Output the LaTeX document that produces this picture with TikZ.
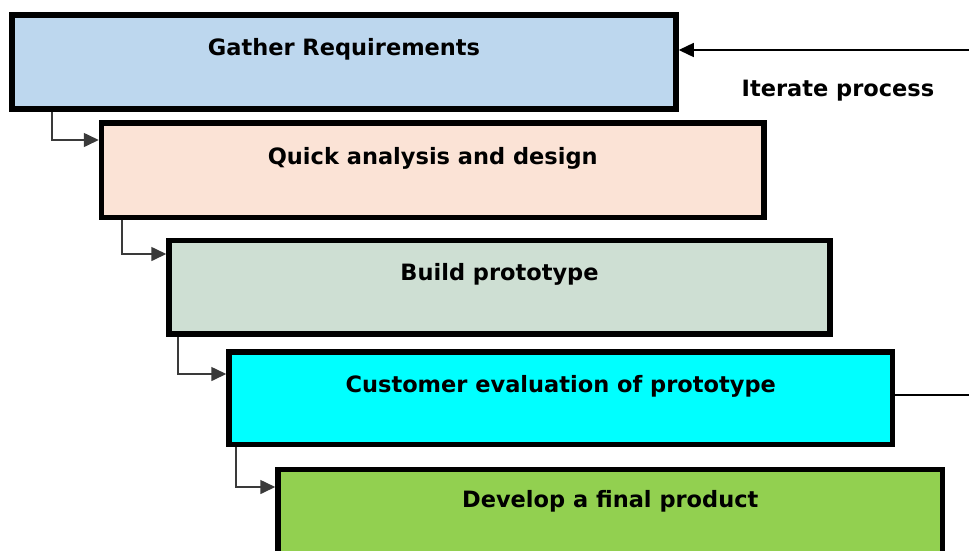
\documentclass[tikz,border=0pt]{standalone}
\usepackage{fontspec}
\setmainfont{DejaVu Sans}
\usetikzlibrary{arrows.meta}
\definecolor{cblue}{HTML}{BDD7EE}
\definecolor{cpeach}{HTML}{FBE3D6}
\definecolor{cgrey}{HTML}{CEDFD3}
\definecolor{ccyan}{HTML}{00FFFF}
\definecolor{cgreen}{HTML}{92D050}
\definecolor{conncol}{HTML}{3A3A3A}
\tikzset{
  box/.style={draw=black, line width=5.5pt, rectangle, anchor=north west, inner sep=0pt},
  txt/.style={font=\bfseries\fontsize{22.5}{26}\selectfont, text=black, inner sep=0pt, anchor=base},
  conn/.style={draw=conncol, line width=1.6pt, -{Triangle[length=15pt,width=14pt]}},
  fb/.style={draw=black, line width=1.4pt},
}
\begin{document}
\begin{tikzpicture}[x=1pt,y=-1pt]
\clip (0,0) rectangle (969,550);
\fill[white] (0,0) rectangle (969,550);
% boxes (positions are outer corners)
\node[box, fill=cblue,  minimum width=664pt,   minimum height=94pt]   (b1) at (9.25,12.25) {};
\node[box, fill=cpeach, minimum width=662.5pt, minimum height=94.5pt] (b2) at (98.75,120.25) {};
\node[box, fill=cgrey,  minimum width=661pt,   minimum height=93.5pt] (b3) at (166.25,237.75) {};
\node[box, fill=ccyan,  minimum width=663.5pt, minimum height=92.5pt] (b4) at (226.25,349.25) {};
\node[box, fill=cgreen, minimum width=664.5pt, minimum height=84pt]   (b5) at (275.25,466.75) {};
% texts
\node[txt] (t1) at ([yshift=-42.75pt]b1.north) {Gather Requirements};
\node[txt] (t2) at ([yshift=-43.75pt]b2.north) {Quick analysis and design};
\node[txt] (t3) at ([yshift=-42.25pt]b3.north) {Build prototype};
\node[txt] (t4) at ([yshift=-42.75pt]b4.north) {Customer evaluation of prototype};
\node[txt] (t5) at ([yshift=-40.25pt]b5.north) {Develop a final product};
\node[txt] (it) at (838,96) {Iterate process};
% stair connectors
\draw[conn] ([xshift=42.75pt]b1.south west) |- ([yshift=-19.75pt]b2.north west);
\draw[conn] ([xshift=23.25pt]b2.south west) |- ([yshift=-16.25pt]b3.north west);
\draw[conn] ([xshift=11.75pt]b3.south west) |- ([yshift=-24.75pt]b4.north west);
\draw[conn] ([xshift=9.75pt]b4.south west) |- ([yshift=-20.25pt]b5.north west);
% iterate feedback
\coordinate (rt) at (969,50);
\coordinate (rb) at (969,395);
\draw[conn, draw=black, line width=1.4pt] (rt) -- (rt -| b1.east);
\draw[fb] (rb -| b4.east) -- (rb);
\end{tikzpicture}
\end{document}
